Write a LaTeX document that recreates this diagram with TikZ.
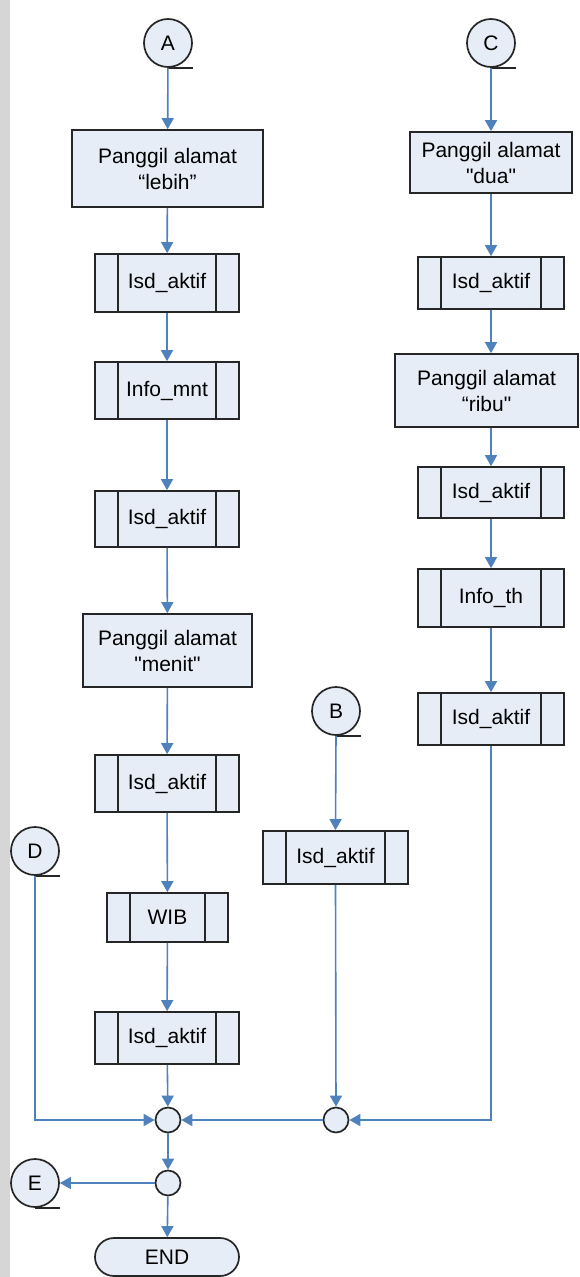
\documentclass[tikz,border=0pt]{standalone}
\usepackage{fontspec}
% plain family: no TeX ligature mapping, so " stays a straight quote
\newfontfamily\labelfont{Liberation Sans}
\usetikzlibrary{arrows.meta,positioning}

\definecolor{flow}{RGB}{79,129,189}
\definecolor{boxfill}{RGB}{231,237,247}
\definecolor{boxline}{RGB}{38,38,38}
\definecolor{edge}{RGB}{214,214,214}

\tikzset{
  every node/.style={font=\labelfont\fontsize{21}{26}\selectfont},
  proc/.style={draw=boxline, fill=boxfill, line width=1.7pt, rectangle,
               align=center, inner sep=0pt},
  subproc/.style={proc},
  subbar/.style={draw=boxline, line width=1.7pt},
  offpage/.style={draw=boxline, fill=boxfill, line width=1.7pt, circle,
                  minimum size=48pt, inner sep=0pt},
  junct/.style={draw=boxline, fill=boxfill, line width=1.7pt, circle,
               minimum size=25pt, inner sep=0pt},
  term/.style={draw=boxline, fill=boxfill, line width=1.7pt,
               rounded corners=19pt, minimum width=144pt, minimum height=38pt,
               inner sep=0pt},
  conn/.style={draw=flow, line width=1.6pt,
               -{Triangle[width=12pt,length=11pt]}},
}

\begin{document}
\begin{tikzpicture}[x=1pt, y=-1pt]
  \useasboundingbox (0,0) rectangle (579,1277);
  \fill[white] (0,0) rectangle (579,1277);
  \fill[edge] (0,0) rectangle (10,1277);

  % ---------- left column ----------
  \node[offpage] (A) at (168,43) {A};
  \node[proc, minimum width=191pt, minimum height=77pt] (lebih) at (167.5,168.5)
       {Panggil alamat\\“lebih”};
  \node[subproc, minimum width=144pt, minimum height=58pt] (l1) at (167,283) {Isd\_aktif};
  \node[subproc, minimum width=144pt, minimum height=57pt] (mnt) at (167,390.5) {Info\_mnt};
  \node[subproc, minimum width=144pt, minimum height=56pt] (l2) at (167,519) {Isd\_aktif};
  \node[proc, minimum width=169pt, minimum height=73pt] (menit) at (167.5,650.5)
       {Panggil alamat\\"menit"};
  \node[subproc, minimum width=144pt, minimum height=57pt] (l3) at (167,783.5) {Isd\_aktif};
  \node[subproc, minimum width=121pt, minimum height=49pt] (wib) at (167.5,917.5) {WIB};
  \node[subproc, minimum width=144pt, minimum height=52pt] (l4) at (167,1038) {Isd\_aktif};
  \node[junct] (j1) at (168,1120) {};
  \node[junct] (j2) at (168,1183) {};
  \node[term] (end) at (167,1257) {END};

  \node[offpage] (D) at (35,851) {D};
  \node[offpage] (E) at (35,1183) {E};

  % ---------- middle column ----------
  \node[offpage] (B) at (336,711) {B};
  \node[subproc, minimum width=145pt, minimum height=53pt] (bsd) at (335.5,857.5) {Isd\_aktif};
  \node[junct] (j3) at (336,1120) {};

  % ---------- right column ----------
  \node[offpage] (C) at (491,43) {C};
  \node[proc, minimum width=162pt, minimum height=61pt] (dua) at (491,162.5)
       {Panggil alamat\\"dua"};
  \node[subproc, minimum width=146pt, minimum height=52pt] (r1) at (491,283) {Isd\_aktif};
  \node[proc, minimum width=183pt, minimum height=73pt] (ribu) at (486.5,390.5)
       {Panggil alamat\\“ribu"};
  \node[subproc, minimum width=146pt, minimum height=51pt] (r2) at (491,492.5) {Isd\_aktif};
  \node[subproc, minimum width=146pt, minimum height=58pt] (th) at (491,598) {Info\_th};
  \node[subproc, minimum width=146pt, minimum height=52pt] (r3) at (491,719) {Isd\_aktif};

  % side bars of the predefined-process boxes
  \foreach \n in {l1,mnt,l2,l3,wib,l4,bsd,r1,r2,th,r3}{
    \draw[subbar] ([xshift=24pt]\n.north west) -- ([xshift=24pt]\n.south west)
                  ([xshift=-24pt]\n.north east) -- ([xshift=-24pt]\n.south east);
  }

  % tails of the off-page connectors
  \foreach \n in {A,B,C,D,E}{
    \draw[boxline, line width=1.7pt] (\n.south) -- ++(25,0);
  }

  % ---------- flow lines ----------
  \draw[conn] (A) -- (lebih);
  \draw[conn] (lebih) -- (l1);
  \draw[conn] (l1) -- (mnt);
  \draw[conn] (mnt) -- (l2);
  \draw[conn] (l2) -- (menit);
  \draw[conn] (menit) -- (l3);
  \draw[conn] (l3) -- (wib);
  \draw[conn] (wib) -- (l4);
  \draw[conn] (l4) -- (j1);
  \draw[conn] (j1) -- (j2);
  \draw[conn] (j2) -- (end);
  \draw[conn] (j2) -- (E);
  \draw[conn] (D.south) |- (j1.west);

  \draw[conn] (B.south) -- (bsd.north);
  \draw[conn] (bsd.south) -- (j3.north);
  \draw[conn] (j3) -- (j1);

  \draw[conn] (C) -- (dua);
  \draw[conn] (dua) -- (r1);
  \draw[conn] (r1.south) -- (r1.south |- ribu.north);
  \draw[conn] (ribu.south -| r2.north) -- (r2.north);
  \draw[conn] (r2) -- (th);
  \draw[conn] (th) -- (r3);
  \draw[conn] (r3.south) |- (j3.east);
\end{tikzpicture}
\end{document}
